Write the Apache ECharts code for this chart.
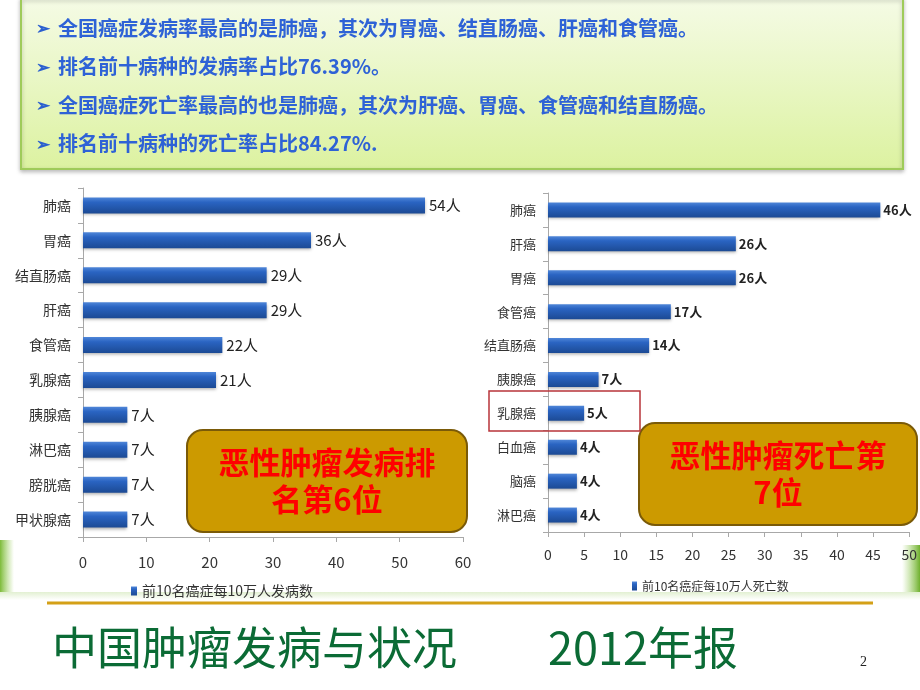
<!DOCTYPE html>
<html><head><meta charset="utf-8">
<script src="https://cdn.jsdelivr.net/npm/echarts@6/dist/echarts.min.js"></script>
<style>html,body{margin:0;padding:0;background:#fff}#c{width:920px;height:690px}</style>
</head><body><div id="c"></div>
<script>
const incCategories = ['肺癌','胃癌','结直肠癌','肝癌','食管癌','乳腺癌','胰腺癌','淋巴癌','膀胱癌','甲状腺癌'];
const incValues = [54,36,29,29,22,21,7,7,7,7];
const incTicks = [0,10,20,30,40,50,60];
const incLegend = '前10名癌症每10万人发病数';

const mortCategories = ['肺癌','肝癌','胃癌','食管癌','结直肠癌','胰腺癌','乳腺癌','白血癌','脑癌','淋巴癌'];
const mortValues = [46,26,26,17,14,7,5,4,4,4];
const mortTicks = [0,5,10,15,20,25,30,35,40,45,50];
const mortLegend = '前10名癌症每10万人死亡数';

const bullets = ['全国癌症发病率最高的是肺癌，其次为胃癌、结直肠癌、肝癌和食管癌。','排名前十病种的发病率占比76.39%。','全国癌症死亡率最高的也是肺癌，其次为肝癌、胃癌、食管癌和结直肠癌。','排名前十病种的死亡率占比84.27%.'];
const leftNote = ['恶性肿瘤发病排','名第6位'];
const rightNote = ['恶性肿瘤死亡第','7位'];
const footerTitle = '中国肿瘤发病与状况';
const footerYear = '2012年报';
const pageNo = '2';

const FONT = '"Noto Sans CJK SC","Noto Sans",sans-serif';
const barColor = new echarts.graphic.LinearGradient(0,0,0,1,[
  {offset:0,color:'#4f86d8'},{offset:0.3,color:'#2a64c2'},{offset:1,color:'#1c4a94'}]);

const chart = echarts.init(document.getElementById('c'));
const graphics = [];
// top box
graphics.push({type:'rect',shape:{x:21,y:-2,width:882,height:171},
  style:{fill:new echarts.graphic.LinearGradient(0,0,0,1,[{offset:0,color:'#f5fbe6'},{offset:1,color:'#dcf2a0'}]),stroke:'#9fcb5a',lineWidth:2,
  shadowBlur:4,shadowColor:'rgba(0,0,0,0.25)',shadowOffsetY:2},z:1});
bullets.forEach((t,i)=>{
  const y = 28 + i*38.5;
  graphics.push({type:'text',x:36,y:y,style:{text:'➢',fill:'#2a5fcf',font:'bold 17px '+FONT,textVerticalAlign:'middle'},z:2});
  graphics.push({type:'text',x:58,y:y,style:{text:t,fill:'#2e62d6',font:'bold 20px '+FONT,textVerticalAlign:'middle'},z:2});
});
// grass hints
graphics.push({type:'rect',shape:{x:0,y:540,width:14,height:60},style:{fill:new echarts.graphic.LinearGradient(0,0,1,0,[{offset:0,color:'#7dbb3a'},{offset:1,color:'rgba(160,210,100,0)'}])},z:0});
graphics.push({type:'rect',shape:{x:902,y:545,width:18,height:55},style:{fill:new echarts.graphic.LinearGradient(1,0,0,0,[{offset:0,color:'#6fb02e'},{offset:1,color:'rgba(160,210,100,0)'}])},z:0});
graphics.push({type:'rect',shape:{x:0,y:592,width:920,height:8},style:{fill:new echarts.graphic.LinearGradient(0,0,0,1,[{offset:0,color:'#e2f0d2'},{offset:1,color:'#ffffff'}])},z:0});
// note boxes
function note(x,y,w,h,lines){
  graphics.push({type:'rect',shape:{x:x,y:y,width:w,height:h,r:16},style:{fill:'#cc9a00',stroke:'#7a5a08',lineWidth:2},z:10});
  graphics.push({type:'text',x:x+w/2,y:y+h/2,style:{text:lines.join('\n'),fill:'#ff0000',font:'bold 31px '+FONT,lineHeight:37,textAlign:'center',textVerticalAlign:'middle'},z:11});
}
note(187,430,280,102,leftNote);
note(639,423,278,102,rightNote);
// red highlight box
graphics.push({type:'rect',shape:{x:489,y:391,width:151,height:40},style:{fill:'none',stroke:'#b8343a',lineWidth:1.5},z:12});
// footer
graphics.push({type:'line',shape:{x1:47,y1:603,x2:873,y2:603},style:{stroke:'#d4a017',lineWidth:3},z:2});
graphics.push({type:'text',x:52,y:648,style:{text:footerTitle,fill:'#0b6b35',font:'45px '+FONT,textVerticalAlign:'middle'},z:2});
graphics.push({type:'text',x:548,y:648,style:{text:footerYear,fill:'#0b6b35',font:'45px '+FONT,textVerticalAlign:'middle'},z:2});
graphics.push({type:'text',x:860,y:662,style:{text:pageNo,fill:'#222',font:'14px "Liberation Serif",serif',textVerticalAlign:'middle'},z:2});

function catAxis(idx,cats,fs){
  return {type:'category',gridIndex:idx,data:cats,inverse:true,
    axisLine:{show:true,lineStyle:{color:'#a8a8a8'}},
    axisTick:{show:true,length:5,lineStyle:{color:'#a8a8a8'}},
    axisLabel:{color:'#333',fontSize:fs,fontFamily:FONT,margin:12}};
}
function valAxis(idx,ticks,fs,m){
  return {type:'value',gridIndex:idx,min:ticks[0],max:ticks[ticks.length-1],interval:ticks[1]-ticks[0],
    splitLine:{show:false},
    axisLine:{show:true,lineStyle:{color:'#a8a8a8'}},
    axisTick:{show:true,length:5,lineStyle:{color:'#a8a8a8'}},
    axisLabel:{color:'#333',fontSize:fs,fontFamily:FONT,margin:m}};
}

chart.setOption({
  animation:false,
  textStyle:{fontFamily:FONT},
  grid:[{left:83,right:457,top:188,bottom:153},{left:548,right:10,top:193,bottom:158}],
  xAxis:[valAxis(0,incTicks,15,18),valAxis(1,mortTicks,14,16)],
  yAxis:[catAxis(0,incCategories,14),catAxis(1,mortCategories,13)],
  legend:[
    {data:[incLegend],left:126,top:579,icon:'rect',itemWidth:6,itemHeight:9,itemGap:4,textStyle:{fontSize:14,color:'#333',fontFamily:FONT}},
    {data:[mortLegend],left:627,top:575,icon:'rect',itemWidth:5,itemHeight:9,itemGap:4,textStyle:{fontSize:12,color:'#333',fontFamily:FONT}}
  ],
  series:[
    {name:incLegend,type:'bar',xAxisIndex:0,yAxisIndex:0,data:incValues,barWidth:16,
     itemStyle:{color:barColor,shadowBlur:3,shadowColor:'rgba(0,0,0,0.3)',shadowOffsetY:2},
     label:{show:true,position:'right',formatter:'{c}人',color:'#222',fontSize:15,fontFamily:FONT,distance:4}},
    {name:mortLegend,type:'bar',xAxisIndex:1,yAxisIndex:1,data:mortValues,barWidth:15,
     itemStyle:{color:barColor,shadowBlur:3,shadowColor:'rgba(0,0,0,0.3)',shadowOffsetY:2},
     label:{show:true,position:'right',formatter:'{c}人',color:'#222',fontSize:13,fontWeight:'bold',fontFamily:FONT,distance:3}}
  ],
  graphic:graphics
});
</script></body></html>
